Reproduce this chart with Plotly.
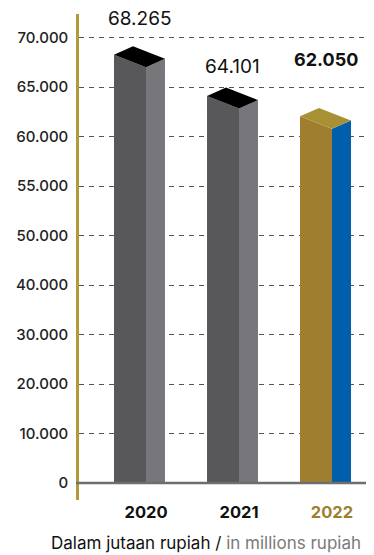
import numpy as np
import plotly.graph_objects as go

# ---- data ----
years = ["2020", "2021", "2022"]
values = [68265, 64101, 62050]
value_labels = ["68.265", "64.101", "62.050"]
tick_values = [0, 10000, 20000, 30000, 40000, 50000, 55000, 60000, 65000, 70000]
tick_labels = ["0", "10.000", "20.000", "30.000", "40.000", "50.000", "55.000", "60.000", "65.000", "70.000"]

# ---- styles ----
front_colors = ["#58585a", "#58585a", "#a07e2f"]
side_colors = ["#77777b", "#77777b", "#005eab"]
top_colors = ["#000000", "#000000", "#a89134"]
label_shift = [28, 21, 48]
FONT = "Inter"

# bar geometry (axis units)
FW = 0.344   # front face width
SW = 0.204   # side face width
D1 = 0.2525  # front top edge drop
D2 = 0.168   # side top edge rise


def to_axis(v):
    # the axis spaces its labels evenly, so map values piecewise between ticks
    return float(np.interp(v, tick_values, np.arange(len(tick_values))))


fig = go.Figure()

for i, (yr, v) in enumerate(zip(years, values)):
    y = to_axis(v)
    x0 = i - (FW + SW) / 2
    x1 = x0 + FW
    x2 = x1 + SW
    # front face
    fig.add_trace(go.Scatter(
        x=[x0, x1, x1, x0, x0], y=[0, 0, y - D1, y, 0],
        fill="toself", fillcolor=front_colors[i], mode="lines",
        line=dict(width=0, color=front_colors[i]), hoverinfo="skip", showlegend=False))
    # side face
    fig.add_trace(go.Scatter(
        x=[x1, x2, x2, x1, x1], y=[0, 0, y - D1 + D2, y - D1, 0],
        fill="toself", fillcolor=side_colors[i], mode="lines",
        line=dict(width=0, color=side_colors[i]), hoverinfo="skip", showlegend=False))
    # top face
    fig.add_trace(go.Scatter(
        x=[x0, x1, x2, x0 + SW, x0], y=[y, y - D1, y - D1 + D2, y + D2, y],
        fill="toself", fillcolor=top_colors[i], mode="lines",
        line=dict(width=0, color=top_colors[i]), hoverinfo="skip", showlegend=False))
    # value label
    bold = i == 2
    fig.add_annotation(
        x=i, y=y + D2, text=f"<b>{value_labels[i]}</b>" if bold else value_labels[i],
        showarrow=False, yshift=label_shift[i], xanchor="center", yanchor="middle",
        font=dict(family=FONT, size=19 if not bold else 18, color="#111111"))

# zero baseline
fig.add_shape(type="line", xref="paper", yref="y", x0=-0.01, x1=1, y0=0, y1=0,
              line=dict(color="#6d6e70", width=2.5), layer="above")

# footer
fig.add_annotation(
    xref="paper", yref="paper", x=(206 - 79) / 295, y=-(543 - 500) / 486,
    text="Dalam jutaan rupiah / <span style='color:#7a7a7a'>in millions rupiah</span>",
    showarrow=False, xanchor="center", yanchor="middle",
    font=dict(family=FONT, size=17, color="#111111"))

xt = [f"<b>{y}</b>" for y in years]
xt[2] = f"<span style='color:#a08030'><b>{years[2]}</b></span>"

# page body has an 8px margin, so the figure is sized to fit the window
fig.update_layout(
    width=366, height=547,
    margin=dict(l=71, r=0, t=6, b=55),
    paper_bgcolor="white", plot_bgcolor="white",
    xaxis=dict(range=[-0.6505, 2.5215], showgrid=False, zeroline=False, showline=False,
               tickvals=[i + 0.07 for i in range(len(years))], ticktext=xt,
               tickfont=dict(family=FONT, size=16.5, color="#111111"), ticks="",
               fixedrange=True),
    yaxis=dict(range=[-0.3434, 9.4747], tickvals=list(range(len(tick_values))),
               ticktext=tick_labels, showgrid=True, gridcolor="#555555", gridwidth=1,
               griddash="5px,5px", zeroline=False, showline=True, linecolor="#b09a3a",
               linewidth=2.5, ticks="", ticklabelstandoff=5,
               tickfont=dict(family=FONT, size=15, color="#222222", weight=500),
               fixedrange=True),
)

fig.write_html("out.html")
